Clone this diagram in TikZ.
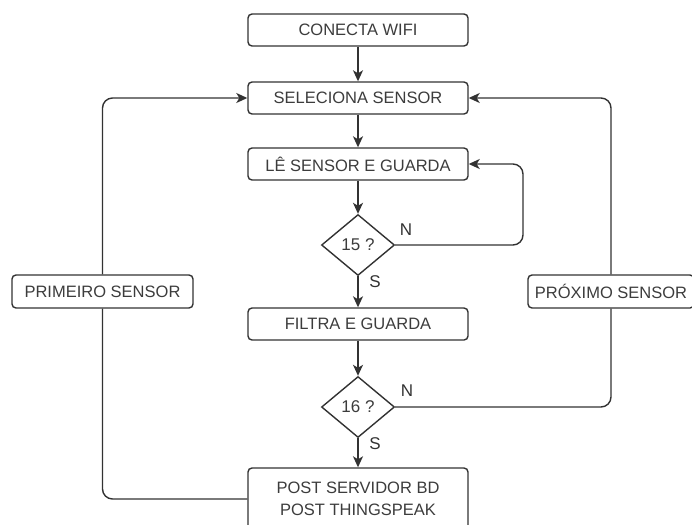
\documentclass[tikz,border=0pt]{standalone}
\usepackage{fontspec}
\setsansfont{Liberation Sans}
\usetikzlibrary{arrows.meta, positioning, shapes.geometric}
\definecolor{linegray}{RGB}{50,50,50}
\definecolor{textgray}{RGB}{60,60,60}

\begin{document}
\begin{tikzpicture}[x=1pt, y=-1pt,
    box/.style={draw=linegray, line width=1.4pt, rounded corners=4pt, minimum width=220pt, minimum height=32pt, inner sep=2pt, font=\sffamily\fontsize{16.5}{22}\selectfont, text=textgray},
    decision/.style={diamond, draw=linegray, line width=1.4pt, minimum width=73pt, minimum height=61pt, aspect=1.2, inner sep=0pt, font=\sffamily\fontsize{17}{17}\selectfont, text=textgray},
    lbl/.style={font=\sffamily\fontsize{17}{17}\selectfont, text=linegray},
    conn/.style={draw=linegray, line width=1.4pt},
    flow/.style={conn, -{Stealth[length=11pt, width=10pt, inset=3pt]}}]
    \useasboundingbox (0,0) rectangle (692,524);

    % Fluxo principal
    \node[box] (wifi) at (358,30) {CONECTA WIFI};
    \node[box] (sel) at (358,98) {SELECIONA SENSOR};
    \node[box] (le) at (358,164) {LÊ SENSOR E GUARDA};
    \node[decision] (d15) at (358,245) {15 ?};
    \node[box] (filtra) at (358,324) {FILTRA E GUARDA};
    \node[decision] (d16) at (358,407) {16 ?};
    \node[box, minimum height=62pt, align=center] (post) at (358,499) {POST SERVIDOR BD\\POST THINGSPEAK};

    % Laterais
    \node[box, minimum width=181pt, minimum height=33pt] (prim) at (102.5,291.5) {PRIMEIRO SENSOR};
    \node[box, minimum width=166pt, minimum height=33pt] (prox) at (611,291.5) {PRÓXIMO SENSOR};

    % Rotulos
    \node[lbl] (n15) at (406,230) {N};
    \node[lbl] (s15) at (375,282) {S};
    \node[lbl] (n16) at (407,391) {N};
    \node[lbl] (s16) at (375,444) {S};

    % Setas
    \draw[flow] (wifi) -- (sel);
    \draw[flow] (sel) -- (le);
    \draw[flow] (le) -- (d15);
    \draw[flow] (d15) -- (filtra);
    \draw[flow] (filtra) -- (d16);
    \draw[flow] (d16) -- (post);
    \coordinate (loop15) at (523,164);
    \draw[flow, rounded corners=10pt] (d15.east) -| (loop15) -- (le.east);
    \draw[conn, rounded corners=10pt] (post.west) -| (prim.south);
    \draw[flow, rounded corners=10pt] (prim.north) |- (sel.west);
    \draw[conn, rounded corners=10pt] (d16.east) -| (prox.south);
    \draw[flow, rounded corners=10pt] (prox.north) |- (sel.east);
\end{tikzpicture}
\end{document}
